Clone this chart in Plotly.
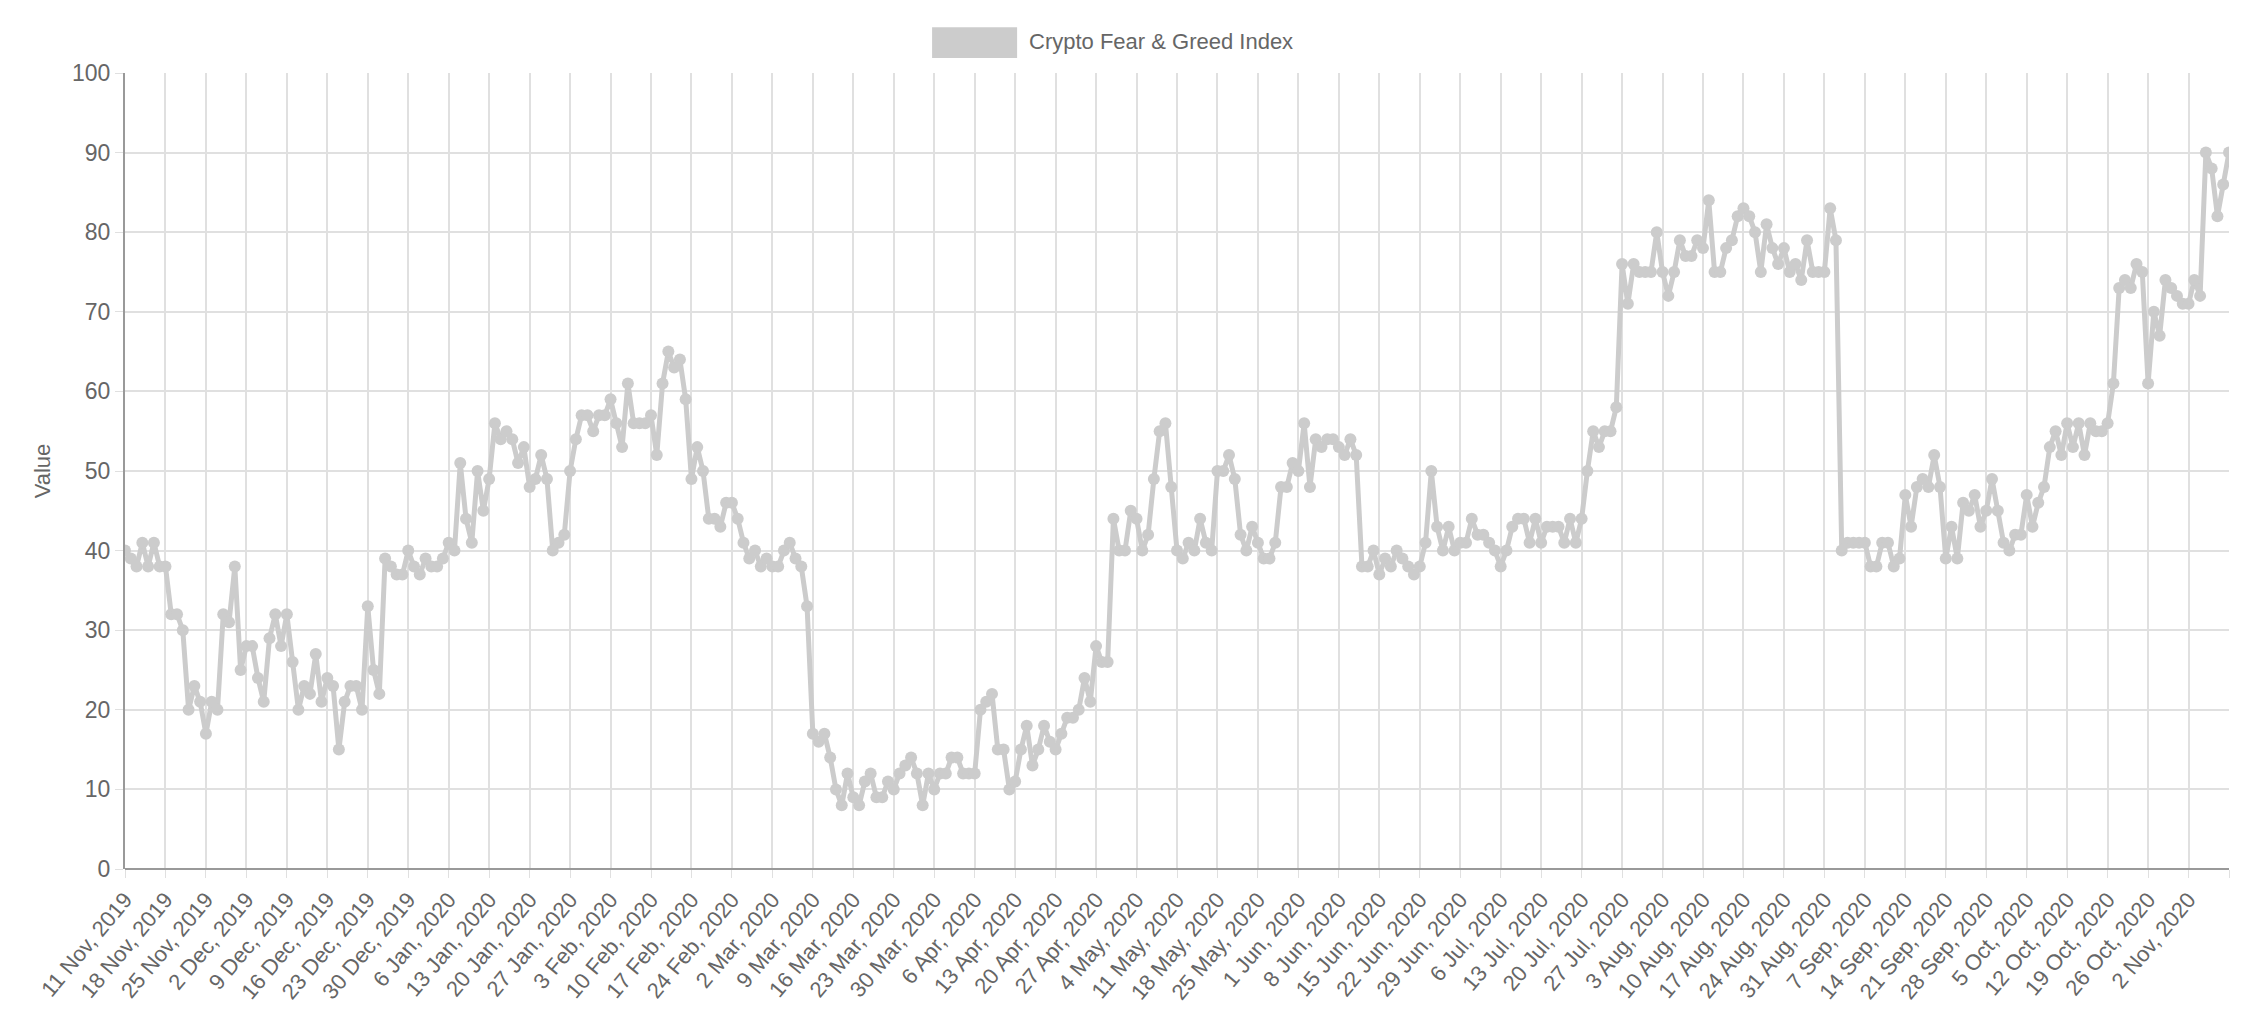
import plotly.graph_objects as go
import pandas as pd

start_date = "2019-11-11"
values = [
    40,39,38,41,38,41,38,
    38,32,32,30,20,23,21,
    17,21,20,32,31,38,25,
    28,28,24,21,29,32,28,
    32,26,20,23,22,27,21,
    24,23,15,21,23,23,20,
    33,25,22,39,38,37,37,
    40,38,37,39,38,38,39,
    41,40,51,44,41,50,45,
    49,56,54,55,54,51,53,
    48,49,52,49,40,41,42,
    50,54,57,57,55,57,57,
    59,56,53,61,56,56,56,
    57,52,61,65,63,64,59,
    49,53,50,44,44,43,46,
    46,44,41,39,40,38,39,
    38,38,40,41,39,38,33,
    17,16,17,14,10,8,12,
    9,8,11,12,9,9,11,
    10,12,13,14,12,8,12,
    10,12,12,14,14,12,12,
    12,20,21,22,15,15,10,
    11,15,18,13,15,18,16,
    15,17,19,19,20,24,21,
    28,26,26,44,40,40,45,
    44,40,42,49,55,56,48,
    40,39,41,40,44,41,40,
    50,50,52,49,42,40,43,
    41,39,39,41,48,48,51,
    50,56,48,54,53,54,54,
    53,52,54,52,38,38,
    40,37,39,38,40,39,38,
    37,38,41,50,43,40,43,
    40,41,41,44,42,42,41,
    40,38,40,43,44,44,41,
    44,41,43,43,43,41,
    44,41,44,50,55,53,
    55,55,58,76,71,76,75,
    75,75,80,75,72,75,79,
    77,77,79,78,84,75,75,
    78,79,82,83,82,80,75,
    81,78,76,78,75,76,
    74,79,75,75,75,83,79,
    40,41,41,41,41,38,
    38,41,41,38,39,47,43,
    48,49,48,52,48,39,43,
    39,46,45,47,43,45,49,
    45,41,40,42,42,47,43,
    46,48,53,55,52,56,53,
    56,52,56,55,55,56,61,
    73,74,73,76,75,61,
    70,67,74,73,72,71,71,74,72,90,88,82,86,90,
]
dates = pd.date_range(start_date, periods=len(values), freq="D")
tick_dates = dates[::7]
tick_labels = [f"{d.day} {d.strftime('%b')}, {d.year}" for d in tick_dates]
series_name = "Crypto Fear & Greed Index"

fig = go.Figure()
fig.add_trace(go.Scatter(
    x=dates, y=values, mode="lines+markers", showlegend=False,
    line=dict(color="#cccccc", width=5),
    marker=dict(color="#cccccc", size=12),
    name=series_name,
))

fig.update_layout(
    width=2232, height=1008,
    paper_bgcolor="white", plot_bgcolor="white",
    margin=dict(l=117, r=11, t=65, b=143),
    font=dict(family="Liberation Sans, Arial, sans-serif", size=22, color="#666666"),
    showlegend=False,
    shapes=[dict(type="rect", xref="paper", yref="paper",
                 x0=0.3836, x1=0.424, y0=1.019, y1=1.0575,
                 fillcolor="#cccccc", line=dict(width=0))],
    annotations=[dict(text=series_name, xref="paper", yref="paper",
                      x=0.4287, y=1.039, xanchor="left", yanchor="middle",
                      showarrow=False, font=dict(size=22, color="#666666"))],
)
fig.update_xaxes(
    type="date", tickmode="array", tickvals=list(tick_dates), ticktext=tick_labels,
    tickangle=-50, showgrid=True, gridcolor="#e0e0e0", gridwidth=1.5,
    range=[dates[0], dates[-1]], showline=False, ticks="outside", ticklen=8,
    tickcolor="#e0e0e0", tickfont=dict(size=22),
)
fig.update_yaxes(
    range=[0, 100], dtick=10, showgrid=True, gridcolor="#e0e0e0", gridwidth=1.5,
    zeroline=True, zerolinecolor="#999999", zerolinewidth=2,
    showline=True, linecolor="#999999", linewidth=2,
    ticks="outside", ticklen=8, tickcolor="#e0e0e0",
    title=dict(text="Value", font=dict(size=22, color="#666666")),
    tickfont=dict(size=23),
)
fig.write_html("out.html")
